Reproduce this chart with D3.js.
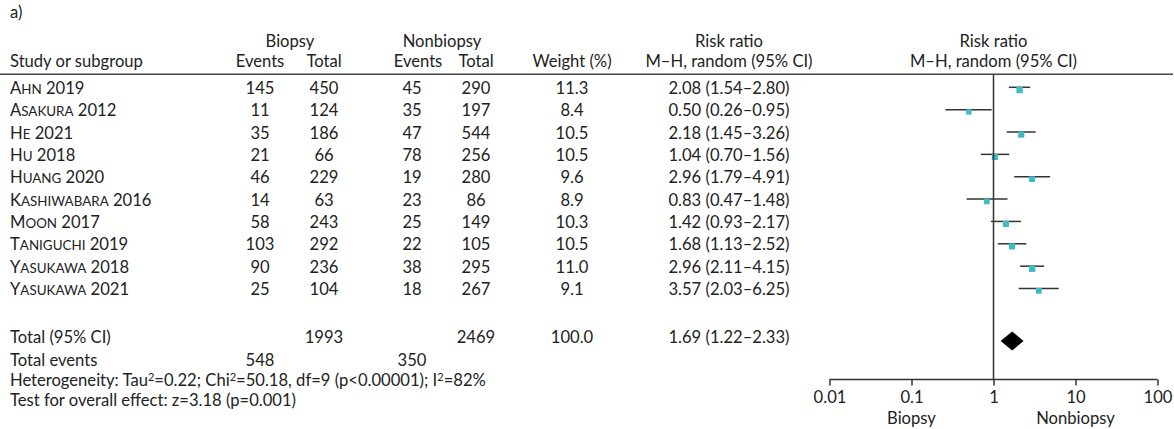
<!DOCTYPE html>
<html>
<head>
<meta charset="utf-8">
<script src="https://cdn.jsdelivr.net/npm/d3@7"></script>
<style>
  html, body { margin: 0; padding: 0; background: #fff; }
  svg text { font-family: Lato, "Noto Sans", sans-serif; font-size: 16.6px; fill: #222; }
</style>
</head>
<body>
<svg id="chart" width="1174" height="429"></svg>
<script>
// Forest plot: biopsy vs nonbiopsy, risk ratios (M–H, random effects)
const studyNames = ["Ahn", "Asakura", "He", "Hu", "Huang", "Kashiwabara", "Moon", "Taniguchi", "Yasukawa", "Yasukawa"];
const studyYears = ["2019", "2012", "2021", "2018", "2020", "2016", "2017", "2019", "2018", "2021"];
const biopsyEvents = [145, 11, 35, 21, 46, 14, 58, 103, 90, 25];
const biopsyTotal = [450, 124, 186, 66, 229, 63, 243, 292, 236, 104];
const nonbiopsyEvents = [45, 35, 47, 78, 19, 23, 25, 22, 38, 18];
const nonbiopsyTotal = [290, 197, 544, 256, 280, 86, 149, 105, 295, 267];
const weights = [11.3, 8.4, 10.5, 10.5, 9.6, 8.9, 10.3, 10.5, 11.0, 9.1];
const riskRatio = [2.08, 0.50, 2.18, 1.04, 2.96, 0.83, 1.42, 1.68, 2.96, 3.57];
const ciLow = [1.54, 0.26, 1.45, 0.70, 1.79, 0.47, 0.93, 1.13, 2.11, 2.03];
const ciHigh = [2.80, 0.95, 3.26, 1.56, 4.91, 1.48, 2.17, 2.52, 4.15, 6.25];
const pooled = { rr: 1.69, lo: 1.22, hi: 2.33 };
const totals = { biopsyTotal: 1993, nonbiopsyTotal: 2469, weight: "100.0", biopsyEvents: 548, nonbiopsyEvents: 350 };
const axisTicks = [0.01, 0.1, 1, 10, 100];
const axisTickLabels = ["0.01", "0.1", "1", "10", "100"];

const svg = d3.select("#chart");
const fmt2 = d3.format(".2f");

// column centres
const col = { study: 10, bEv: 260, bTot: 324, nEv: 412, nTot: 476, wt: 572, rr: 729 };
const rowY = d3.scaleLinear().domain([0, 9]).range([94, 295.2]); // text baselines
const x = d3.scaleLog().domain([0.01, 100]).range([829.5, 1157.5]);

// panel tag
svg.append("text").attr("x", 10).attr("y", 18).text("a)");

// header
const hdr = svg.append("g");
const yH1 = 47, yH2 = 67;
hdr.append("text").attr("x", 290).attr("y", yH1).attr("text-anchor", "middle").text("Biopsy");
hdr.append("text").attr("x", 442).attr("y", yH1).attr("text-anchor", "middle").text("Nonbiopsy");
hdr.append("text").attr("x", col.rr).attr("y", yH1).attr("text-anchor", "middle").text("Risk ratio");
hdr.append("text").attr("x", x(1)).attr("y", yH1).attr("text-anchor", "middle").text("Risk ratio");
hdr.append("text").attr("x", col.study).attr("y", yH2).text("Study or subgroup");
hdr.append("text").attr("x", col.bEv).attr("y", yH2).attr("text-anchor", "middle").text("Events");
hdr.append("text").attr("x", col.bTot).attr("y", yH2).attr("text-anchor", "middle").text("Total");
hdr.append("text").attr("x", 418).attr("y", yH2).attr("text-anchor", "middle").text("Events");
hdr.append("text").attr("x", col.nTot).attr("y", yH2).attr("text-anchor", "middle").text("Total");
hdr.append("text").attr("x", col.wt).attr("y", yH2).attr("text-anchor", "middle").text("Weight (%)");
hdr.append("text").attr("x", col.rr).attr("y", yH2).attr("text-anchor", "middle").text("M–H, random (95% CI)");
hdr.append("text").attr("x", x(1)).attr("y", yH2).attr("text-anchor", "middle").text("M–H, random (95% CI)");
svg.append("line").attr("x1", 0).attr("x2", 1173).attr("y1", 74.3).attr("y2", 74.3)
  .attr("stroke", "#444").attr("stroke-width", 1.6);

// study rows
const rows = svg.append("g").selectAll("g").data(d3.range(studyNames.length)).join("g");
// author names set in small capitals: initial at full size, remainder as reduced capitals
rows.append("text").attr("x", col.study).attr("y", i => rowY(i))
  .call(t => {
    t.append("tspan").text(i => studyNames[i].charAt(0).toUpperCase());
    t.append("tspan").style("font-size", "13.4px").text(i => studyNames[i].slice(1).toUpperCase());
    t.append("tspan").text(i => " " + studyYears[i]);
  });
const cell = (key, arr, fmt) => rows.append("text").attr("x", col[key]).attr("y", i => rowY(i))
  .attr("text-anchor", "middle").text(i => fmt ? fmt(arr[i]) : arr[i]);
cell("bEv", biopsyEvents);
cell("bTot", biopsyTotal);
cell("nEv", nonbiopsyEvents);
cell("nTot", nonbiopsyTotal);
cell("wt", weights, d3.format(".1f"));
rows.append("text").attr("x", col.rr).attr("y", i => rowY(i)).attr("text-anchor", "middle")
  .text(i => `${fmt2(riskRatio[i])} (${fmt2(ciLow[i])}–${fmt2(ciHigh[i])})`);

// reference line at RR = 1
svg.append("line").attr("x1", x(1)).attr("x2", x(1)).attr("y1", 74.3).attr("y2", 379.5)
  .attr("stroke", "#333").attr("stroke-width", 1.5);

// confidence intervals and weighted squares
const ciY = i => rowY(i) - 6.7;
rows.append("line").attr("x1", i => x(ciLow[i])).attr("x2", i => x(ciHigh[i]))
  .attr("y1", ciY).attr("y2", ciY)
  .attr("stroke", "#333").attr("stroke-width", 1.5);
const side = w => 6 * Math.sqrt(w / 10);
rows.append("rect")
  .attr("x", i => x(riskRatio[i]) - side(weights[i]) / 2)
  .attr("y", i => ciY(i) - 0.5)
  .attr("width", i => side(weights[i])).attr("height", i => side(weights[i]))
  .attr("fill", "#3dbcc6");

// totals
const yTot = 343, yEv = 365.5, yHet = 386, yTest = 406;
svg.append("text").attr("x", col.study).attr("y", yTot).text("Total (95% CI)");
svg.append("text").attr("x", col.bTot).attr("y", yTot).attr("text-anchor", "middle").text(totals.biopsyTotal);
svg.append("text").attr("x", col.nTot).attr("y", yTot).attr("text-anchor", "middle").text(totals.nonbiopsyTotal);
svg.append("text").attr("x", col.wt).attr("y", yTot).attr("text-anchor", "middle").text(totals.weight);
svg.append("text").attr("x", col.rr).attr("y", yTot).attr("text-anchor", "middle")
  .text(`${fmt2(pooled.rr)} (${fmt2(pooled.lo)}–${fmt2(pooled.hi)})`);
svg.append("text").attr("x", col.study).attr("y", yEv).text("Total events");
svg.append("text").attr("x", col.bEv).attr("y", yEv).attr("text-anchor", "middle").text(totals.biopsyEvents);
svg.append("text").attr("x", col.nEv).attr("y", yEv).attr("text-anchor", "middle").text(totals.nonbiopsyEvents);

const het = svg.append("text").attr("x", col.study).attr("y", yHet);
const sup = (t, s) => { t.append("tspan").attr("dy", -5).style("font-size", "11px").text(s); };
het.append("tspan").text("Heterogeneity: Tau");
sup(het, "2");
het.append("tspan").attr("dy", 5).text("=0.22; Chi");
sup(het, "2");
het.append("tspan").attr("dy", 5).text("=50.18, df=9 (p<0.00001); I");
sup(het, "2");
het.append("tspan").attr("dy", 5).text("=82%");
svg.append("text").attr("x", col.study).attr("y", yTest).text("Test for overall effect: z=3.18 (p=0.001)");

// pooled diamond
const dy = 341;
svg.append("path")
  .attr("d", `M${x(pooled.lo)},${dy} L${x(pooled.rr)},${dy - 9.5} L${x(pooled.hi)},${dy} L${x(pooled.rr)},${dy + 9.5} Z`)
  .attr("fill", "#000");

// log axis
const axis = d3.axisBottom(x).tickValues(axisTicks).tickFormat((d, i) => axisTickLabels[i]).tickSize(6).tickPadding(6);
const ax = svg.append("g").attr("transform", "translate(0,379.5)").call(axis);
ax.select(".domain").attr("stroke", "#333").attr("stroke-width", 1.5).attr("d", `M${x(0.01)},0H${x(100)}`);
ax.selectAll(".tick line").attr("stroke", "#333").attr("stroke-width", 1.5);
ax.selectAll(".tick text").style("font-family", "Lato, sans-serif").style("font-size", "16.6px").attr("fill", "#222");

svg.append("text").attr("x", x(0.1)).attr("y", 424).attr("text-anchor", "middle").text("Biopsy");
svg.append("text").attr("x", x(10)).attr("y", 424).attr("text-anchor", "middle").text("Nonbiopsy");
</script>
</body>
</html>
